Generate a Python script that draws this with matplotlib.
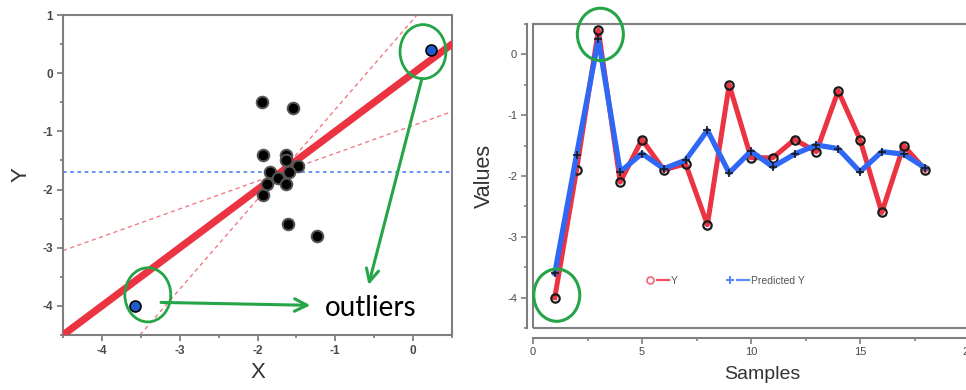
import matplotlib
matplotlib.use("Agg")
import matplotlib.pyplot as plt
from matplotlib.patches import Ellipse, Rectangle
from matplotlib.lines import Line2D
from matplotlib.legend_handler import HandlerTuple
from matplotlib.ticker import MultipleLocator
from matplotlib import font_manager

plt.rcParams['axes.unicode_minus'] = False

# ---------------- data ----------------
# left panel: scatter
pts_x = [-1.94, -1.55, -1.93, -1.63, -1.63, -1.48, -1.84, -1.60, -1.74, -1.88, -1.63, -1.93, -1.61, -1.24]
pts_y = [-0.5, -0.6, -1.4, -1.4, -1.5, -1.6, -1.7, -1.7, -1.8, -1.9, -1.9, -2.1, -2.6, -2.8]
outlier_x = [0.23, -3.58]
outlier_y = [0.4, -4.0]
fit_x = [-4.5, 0.5]
fit_y = [-4.5, 0.5]
band_lo_x = [-4.5, 0.5]
band_lo_y = [-3.05, -0.66]
band_hi_x = [-3.51, 0.05]
band_hi_y = [-4.5, 1.0]
mean_y = -1.7

# right panel: series
samples = list(range(1, 19))
y_vals = [-4.0, -1.9, 0.4, -2.1, -1.4, -1.9, -1.8, -2.8, -0.5, -1.7, -1.7, -1.4, -1.6, -0.6, -1.4, -2.6, -1.5, -1.9]
pred_vals = [-3.6, -1.65, 0.25, -1.93, -1.63, -1.88, -1.74, -1.25, -1.95, -1.59, -1.85, -1.64, -1.49, -1.55, -1.93, -1.6, -1.64, -1.87]

left_xticks = [-4, -3, -2, -1, 0]
left_yticks = [1, 0, -1, -2, -3, -4]
right_xticks = [0, 5, 10, 15, 20]
right_yticks = [0, -1, -2, -3, -4]

# annotations
circ_left = [(0.127, 0.37), (-3.41, -3.81)]
circ_left_size = (0.59, 0.93)
arrow_starts = [(0.114, -0.09), (-3.24, -3.94)]
arrow_ends = [(-0.573, -3.64), (-1.32, -3.99)]
circ_right = [(3.09, 0.33), (1.09, -3.96)]
circ_right_size = (2.11, 0.86)

GREEN = '#25a548'
RED = '#ec3341'
BLUE = '#2f68f5'
SPINE = '#7f7f7f'
TICKC = '#4a4a4a'

avail = {f.name for f in font_manager.fontManager.ttflist}
narrow = 'Liberation Sans Narrow' if 'Liberation Sans Narrow' in avail else 'Liberation Sans'

fig = plt.figure(figsize=(9.66, 3.9), dpi=100)

# ---------------- left ----------------
ax = fig.add_axes([63/966, 1-335/390, (452-63)/966, (335-15)/390])
ax.set_xlim(-4.5, 0.5)
ax.set_ylim(-4.5, 1.0)
ax.plot(band_lo_x, band_lo_y, color='#f27a86', lw=1.0, ls=(0, (3, 2.5)), zorder=2)
ax.plot(band_hi_x, band_hi_y, color='#f27a86', lw=1.0, ls=(0, (3, 2.5)), zorder=2)
ax.axhline(mean_y, color='#5b8cf5', lw=1.3, ls=(0, (2, 2)), zorder=2)
ax.plot(fit_x, fit_y, color=RED, lw=5.2, solid_capstyle='round', zorder=3)
ax.scatter(pts_x, pts_y, s=70, color='black', edgecolors='#555555', linewidths=1.4, zorder=4)
ax.scatter(outlier_x, outlier_y, s=62, color='#1d5ccc', edgecolors='black', linewidths=1.2, zorder=5)
for c in circ_left:
    ax.add_patch(Ellipse(c, circ_left_size[0], circ_left_size[1], fill=False, ec=GREEN, lw=2.0, zorder=6))
for s, e in zip(arrow_starts, arrow_ends):
    ax.annotate('', xy=e, xytext=s,
                arrowprops=dict(arrowstyle='->,head_length=0.9,head_width=0.45', color=GREEN, lw=2.2,
                                shrinkA=0, shrinkB=0), zorder=6)
ax.text(-1.13, -4.17, 'outliers', fontsize=20, family='Lato', color='black', va='baseline', ha='left')

ax.set_xticks(left_xticks)
ax.set_yticks(left_yticks)
ax.xaxis.set_minor_locator(MultipleLocator(0.5))
ax.yaxis.set_minor_locator(MultipleLocator(0.5))
ax.tick_params(which='major', direction='out', length=4, width=1.3, color=SPINE,
               labelsize=8.5, labelcolor=TICKC, pad=3)
ax.tick_params(which='minor', direction='out', length=2.5, width=1.3, color=SPINE)
for lab in ax.get_xticklabels() + ax.get_yticklabels():
    lab.set_fontweight('bold')
    lab.set_family('Liberation Sans')
for sp in ax.spines.values():
    sp.set_color(SPINE)
    sp.set_linewidth(1.5)
ax.set_xlabel('X', fontsize=16, color='#333333', family='Liberation Sans', labelpad=4)
ax.set_ylabel('Y', fontsize=16, color='#333333', family='Liberation Sans', labelpad=8)

# ---------------- right ----------------
px_unit = 436/20
axr = fig.add_axes([533/966, 1-328/390, 21*px_unit/966, (328-24)/390])
axr.set_xlim(0, 21)
axr.set_ylim(-4.5, 0.5)
lr, = axr.plot(samples, y_vals, color=RED, lw=3.6, marker='o', ms=6, mfc='none', mec='#1a1a1a', mew=1.6, zorder=3)
lb, = axr.plot(samples, pred_vals, color=BLUE, lw=3.8, marker='+', ms=6, mec='#1a1a1a', mew=1.2, zorder=4)
for c in circ_right:
    axr.add_patch(Ellipse(c, circ_right_size[0], circ_right_size[1], fill=False, ec=GREEN, lw=2.2,
                          zorder=6, clip_on=False))
axr.add_patch(Rectangle((0, 0), 1, 1, transform=axr.transAxes, fill=False, ec=SPINE, lw=1.5,
                        clip_on=False, zorder=1))
axr.spines['left'].set_position(('outward', 4.5))
axr.spines['bottom'].set_position(('outward', 7))
for sp in axr.spines.values():
    sp.set_color(SPINE)
    sp.set_linewidth(1.5)
axr.set_xticks(right_xticks)
axr.set_yticks(right_yticks)
axr.xaxis.set_minor_locator(MultipleLocator(2.5))
axr.yaxis.set_minor_locator(MultipleLocator(0.5))
axr.tick_params(which='major', direction='out', length=4, width=1.2, color=SPINE,
                labelsize=8, labelcolor=TICKC, pad=3)
axr.tick_params(which='minor', direction='out', length=2.5, width=1.2, color=SPINE)
for lab in axr.get_xticklabels() + axr.get_yticklabels():
    lab.set_family(narrow)
axr.set_xlabel('Samples', fontsize=14, color='#333333', family=narrow, labelpad=6)
axr.set_ylabel('Values', fontsize=15.5, color='#333333', family=narrow, labelpad=9)

h_y = (Line2D([], [], ls='none', marker='o', ms=5, mfc='none', mec='#f07080', mew=1.3),
       Line2D([], [], color='#f05060', lw=1.6))
h_p = (Line2D([], [], ls='none', marker='+', ms=6, mec='#5b8cf5', mew=1.5),
       Line2D([], [], color='#5b8cf5', lw=1.6))
leg = axr.legend([h_y, h_p], ['Y', 'Predicted Y'], ncol=2, frameon=False,
                 handler_map={tuple: HandlerTuple(ndivide=None, pad=0.1)},
                 loc='center', bbox_to_anchor=(0.418, 0.155), handlelength=2.4,
                 handletextpad=0.15, columnspacing=4.5,
                 prop={'family': narrow, 'size': 7.5})
for t in leg.get_texts():
    t.set_color('#555555')

fig.savefig('out.png', dpi=100)
